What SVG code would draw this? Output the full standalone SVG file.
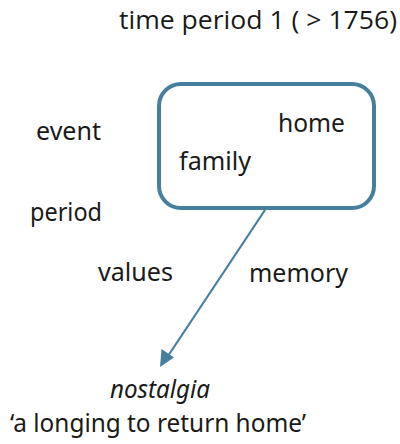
<svg xmlns="http://www.w3.org/2000/svg" width="400" height="444" viewBox="0 0 400 444">
  <style>
    .lbl { font-family: "Noto Sans", "Open Sans", sans-serif; font-size: 24.5px; fill: #1a1a1a; }
    .title { font-family: "Open Sans", "Noto Sans", sans-serif; font-size: 26px; fill: #1a1a1a; }
    .box { fill: #ffffff; stroke: #467f9e; stroke-width: 4; }
    .edge { stroke: #467f9e; stroke-width: 2.2; fill: none; }
  </style>
  <rect width="400" height="444" fill="#ffffff"/>

  <text class="title" x="119" y="29" textLength="278" lengthAdjust="spacingAndGlyphs">time period 1 ( &gt; 1756)</text>

  <g id="box">
    <rect class="box" x="159" y="84" width="215" height="124" rx="22"/>
    <text class="lbl" x="278" y="132" textLength="67" lengthAdjust="spacingAndGlyphs">home</text>
    <text class="lbl" x="179" y="170" textLength="72" lengthAdjust="spacingAndGlyphs">family</text>
  </g>

  <g id="labels">
    <text class="lbl" x="36" y="140" textLength="65" lengthAdjust="spacingAndGlyphs">event</text>
    <text class="lbl" x="30" y="221" textLength="72" lengthAdjust="spacingAndGlyphs">period</text>
    <text class="lbl" x="98" y="281" textLength="75" lengthAdjust="spacingAndGlyphs">values</text>
    <text class="lbl" x="249" y="282" textLength="99" lengthAdjust="spacingAndGlyphs">memory</text>
  </g>

  <g id="nostalgia">
    <text class="lbl" x="110" y="398" font-style="italic" textLength="100" lengthAdjust="spacingAndGlyphs">nostalgia</text>
    <text class="lbl" x="10" y="432" textLength="296" lengthAdjust="spacingAndGlyphs">‘a longing to return home’</text>
  </g>

  <g id="connectors">
    <line class="edge" x1="265" y1="210" x2="168" y2="356"/>
    <path d="M160,367 L161.5,349 L174,357.5 z" fill="#467f9e"/>
  </g>
</svg>
